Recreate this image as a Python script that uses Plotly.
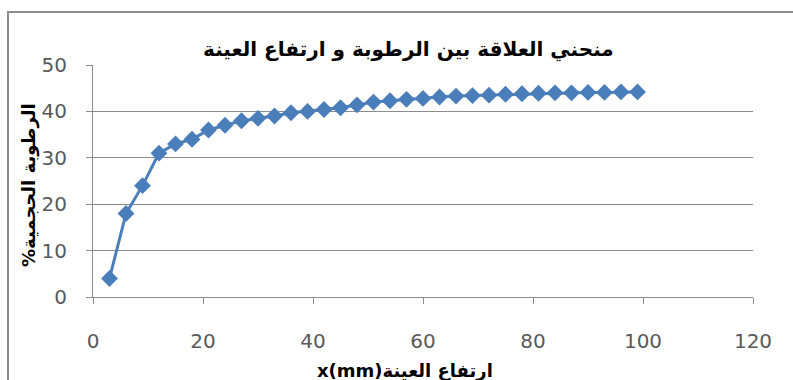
import plotly.graph_objects as go

# Sample height (mm) and volumetric moisture (%)
height_mm = [3, 6, 9, 12, 15, 18, 21, 24, 27, 30, 33, 36, 39, 42, 45, 48, 51,
             54, 57, 60, 63, 66, 69, 72, 75, 78, 81, 84, 87, 90, 93, 96, 99]
moisture_pct = [4, 18, 24, 31, 33, 34, 36, 37, 38, 38.5, 39, 39.7, 40, 40.4,
                40.8, 41.4, 42, 42.3, 42.6, 42.8, 43.1, 43.3, 43.4, 43.5, 43.7,
                43.8, 43.9, 44, 44, 44.1, 44.1, 44.2, 44.2]

x_ticks = [0, 20, 40, 60, 80, 100, 120]
y_ticks = [0, 10, 20, 30, 40, 50]

title_text = "منحني العلاقة بين الرطوبة و ارتفاع العينة"
x_title = "x(mm)ارتفاع العينة"
y_title = "%الرطوبة الحجمية"

W, H = 793, 380
L, R, T, B = 93, 40, 65, 83
pw, ph = W - L - R, H - T - B


def px(xp):
    return (xp - L) / pw


def py(yp):
    return (H - B - yp) / ph


fig = go.Figure()
fig.add_trace(go.Scatter(
    x=height_mm, y=moisture_pct, mode="lines+markers",
    line=dict(color="#4A7EBB", width=3),
    marker=dict(symbol="diamond", size=13, color="#4A7EBB",
                line=dict(width=0)),
    cliponaxis=False, showlegend=False,
))

tick_font = dict(family="'DejaVu Sans', sans-serif", size=20, color="#595959")
label_font = dict(family="'DejaVu Sans', sans-serif", size=18, color="black",
                  weight="bold")
axis_col = "#8C8C8C"

fig.update_layout(
    width=W, height=H,
    margin=dict(l=L, r=R, t=T, b=B),
    paper_bgcolor="white", plot_bgcolor="white",
    xaxis=dict(range=[0, 120], tickvals=x_ticks, ticks="outside", ticklen=6,
               tickcolor=axis_col, showgrid=False, zeroline=False,
               showline=True, linecolor=axis_col, linewidth=1,
               tickfont=tick_font, ticklabelstandoff=20),
    yaxis=dict(range=[0, 50], tickvals=y_ticks, ticks="outside", ticklen=6,
               tickcolor=axis_col, showgrid=True, gridcolor=axis_col,
               gridwidth=1, zeroline=False, showline=True,
               linecolor=axis_col, linewidth=1, tickfont=tick_font,
               ticklabelstandoff=15),
    shapes=[dict(type="rect", xref="paper", yref="paper",
                 x0=px(8), x1=px(805), y0=py(395), y1=py(12),
                 line=dict(color="#8C8C8C", width=2), layer="below")],
    annotations=[
        dict(text=title_text, xref="paper", yref="paper", x=px(408), y=py(50),
             showarrow=False, xanchor="center", yanchor="middle",
             font=dict(family="'DejaVu Sans', sans-serif", size=20,
                       color="black", weight="bold")),
        dict(text=x_title, xref="paper", yref="paper", x=px(405), y=py(370),
             showarrow=False, xanchor="center", yanchor="middle",
             font=label_font),
        dict(text=y_title, xref="paper", yref="paper", x=px(29), y=py(185),
             showarrow=False, xanchor="center", yanchor="middle", textangle=-90,
             font=label_font),
    ],
)

fig.write_html("out.html")
